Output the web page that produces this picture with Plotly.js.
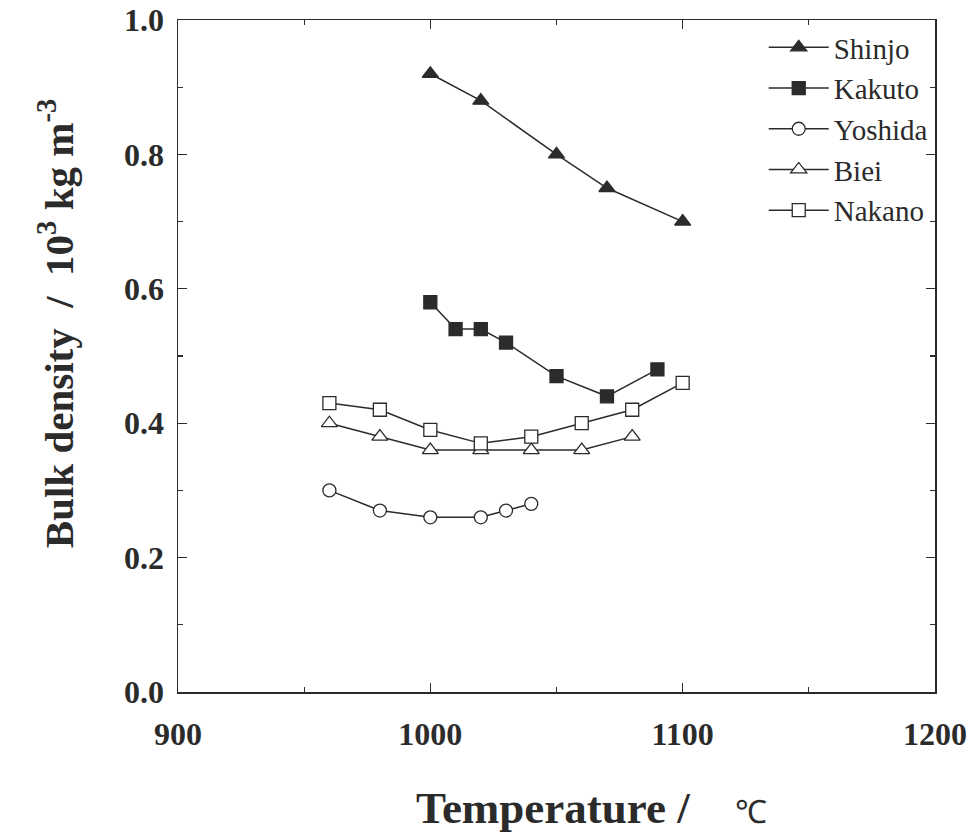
<!DOCTYPE html>
<html>
<head>
<meta charset="utf-8">
<script src="https://cdn.plot.ly/plotly-3.0.1.min.js"></script>
<style>html,body{margin:0;padding:0;background:#fff;}#chart{width:975px;height:840px;}</style>
</head>
<body>
<div id="chart"></div>
<script>
// Data
const shinjoT = [1000, 1020, 1050, 1070, 1100];
const shinjoD = [0.92, 0.88, 0.80, 0.75, 0.70];

const kakutoT = [1000, 1010, 1020, 1030, 1050, 1070, 1090];
const kakutoD = [0.58, 0.54, 0.54, 0.52, 0.47, 0.44, 0.48];

const yoshidaT = [960, 980, 1000, 1020, 1030, 1040];
const yoshidaD = [0.30, 0.27, 0.26, 0.26, 0.27, 0.28];

const bieiT = [960, 980, 1000, 1020, 1040, 1060, 1080];
const bieiD = [0.40, 0.38, 0.36, 0.36, 0.36, 0.36, 0.38];

const nakanoT = [960, 980, 1000, 1020, 1040, 1060, 1080, 1100];
const nakanoD = [0.43, 0.42, 0.39, 0.37, 0.38, 0.40, 0.42, 0.46];

const seriesNames = ["Shinjo", "Kakuto", "Yoshida", "Biei", "Nakano"];

const FONT = "Liberation Serif, Times New Roman, serif";
const INK = "#2b2b2b";

function tr(name, x, y, symbol, filled) {
  return {
    type: "scatter", mode: "lines+markers", name: name, x: x, y: y,
    line: {color: INK, width: 1.5},
    marker: {symbol: symbol, size: symbol.indexOf("triangle") === 0 ? 14 : 13,
             color: filled ? INK : "#ffffff",
             line: {color: INK, width: 1.3}}
  };
}

const data = [
  tr(seriesNames[0], shinjoT, shinjoD, "triangle-up", true),
  tr(seriesNames[1], kakutoT, kakutoD, "square", true),
  tr(seriesNames[2], yoshidaT, yoshidaD, "circle", false),
  tr(seriesNames[3], bieiT, bieiD, "triangle-up", false),
  tr(seriesNames[4], nakanoT, nakanoD, "square", false)
];

const layout = {
  width: 975, height: 840,
  margin: {l: 178, r: 40, t: 20, b: 148},
  paper_bgcolor: "#ffffff", plot_bgcolor: "#ffffff",
  font: {family: FONT, color: INK},
  showlegend: true,
  legend: {x: 0.997, xanchor: "right", y: 0.997, yanchor: "top",
           bgcolor: "rgba(0,0,0,0)", font: {size: 29, family: FONT, color: INK},
           tracegroupgap: 0, itemwidth: 60},
  xaxis: {
    range: [900, 1200], dtick: 100, tick0: 900,
    showgrid: false, zeroline: false,
    showline: true, linecolor: INK, linewidth: 1.5, mirror: "ticks",
    ticks: "inside", ticklen: 9, tickwidth: 1.3, tickcolor: INK,
    minor: {dtick: 50, ticks: "inside", ticklen: 5, tickwidth: 1.2, tickcolor: INK, showgrid: false},
    tickfont: {size: 32, family: FONT, weight: "bold", color: INK},
    ticklabelstandoff: 13
  },
  yaxis: {
    range: [0, 1.0], dtick: 0.2, tick0: 0, tickformat: ".1f",
    showgrid: false, zeroline: false,
    showline: true, linecolor: INK, linewidth: 1.5, mirror: "ticks",
    ticks: "inside", ticklen: 9, tickwidth: 1.3, tickcolor: INK,
    minor: {dtick: 0.1, ticks: "inside", ticklen: 5, tickwidth: 1.2, tickcolor: INK, showgrid: false},
    tickfont: {size: 32, family: FONT, weight: "bold", color: INK},
    ticklabelstandoff: 6
  },
  annotations: [
    {xref: "paper", yref: "paper", x: -0.161, y: 0.549, xanchor: "center", yanchor: "middle",
     textangle: -90, showarrow: false,
     text: "<b>Bulk density  /  10<sup>3</sup> kg m<sup>-3</sup></b>",
     font: {size: 41, family: FONT, color: INK}},
    {xref: "paper", yref: "paper", x: 0.5456, y: -0.173, xanchor: "center", yanchor: "middle",
     showarrow: false,
     text: "<b>Temperature /</b>\u00a0\u00a0\u00a0\u00a0<span style='font-size:32px'>℃</span>",
     font: {size: 45, family: FONT, color: INK}}
  ]
};

Plotly.newPlot("chart", data, layout, {staticPlot: true});
</script>
</body>
</html>
